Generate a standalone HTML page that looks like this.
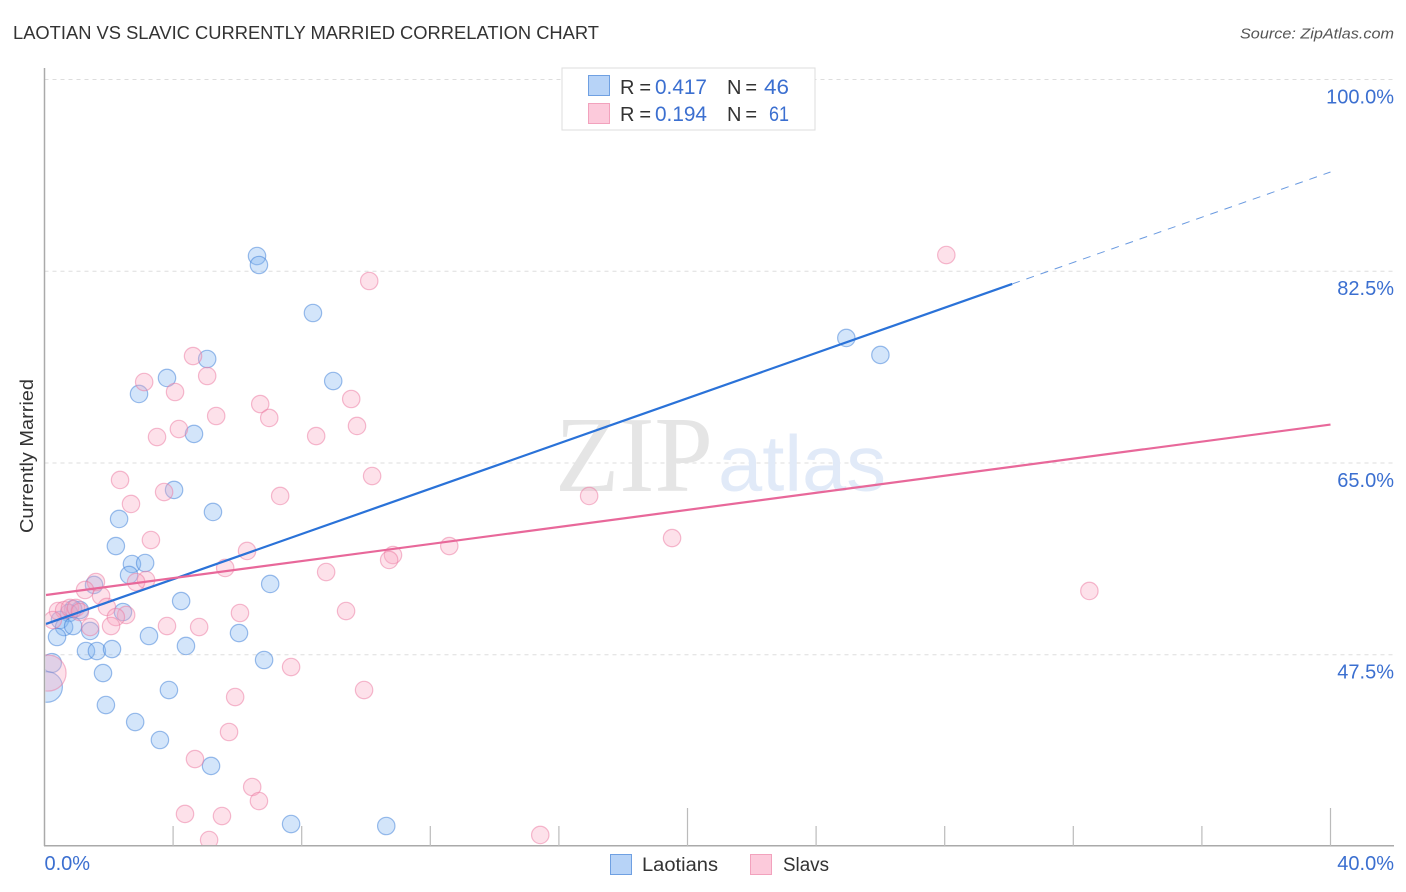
<!DOCTYPE html>
<html lang="en">
<head>
<meta charset="utf-8">
<title>Laotian vs Slavic Currently Married Correlation Chart</title>
<style>
html,body{margin:0;padding:0;background:#fff;}
svg{display:block;font-family:"Liberation Sans",sans-serif;}
</style>
</head>
<body>
<svg id="chart" xmlns="http://www.w3.org/2000/svg" width="1406" height="892" viewBox="0 0 1406 892">
  <defs>
    <clipPath id="plot-clip"><rect x="45.5" y="68" width="1350" height="777"/></clipPath>
  </defs>
  <rect width="1406" height="892" fill="#ffffff"/>
  <text x="13" y="39" font-size="18" fill="#333333" textLength="586" lengthAdjust="spacingAndGlyphs">LAOTIAN VS SLAVIC CURRENTLY MARRIED CORRELATION CHART</text>
  <text x="1394" y="38.5" font-size="15" font-style="italic" fill="#555555" text-anchor="end" textLength="154" lengthAdjust="spacingAndGlyphs">Source: ZipAtlas.com</text>
  <text transform="translate(33,456) rotate(-90)" font-size="18" fill="#333333" text-anchor="middle" textLength="154" lengthAdjust="spacingAndGlyphs">Currently Married</text>
  <g id="grid"></g>
  <g>
    <text x="555" y="491" font-family="'Liberation Serif',serif" font-size="108" fill="#e5e5e5" textLength="158" lengthAdjust="spacingAndGlyphs">ZIP</text>
    <text x="718" y="490.5" font-size="79" fill="#e1eaf8" textLength="168" lengthAdjust="spacingAndGlyphs">atlas</text>
  </g>
  <g id="axes"></g>
  <g id="points" clip-path="url(#plot-clip)"></g>
  <g id="trends"></g>
  <g id="labels"></g>
  <g>
    <rect x="562" y="68" width="253" height="62" fill="#ffffff" stroke="#dddddd" stroke-width="1"/>
    <rect x="588.5" y="75.5" width="21" height="20" fill="#b7d3f7" stroke="#6fa0e2" stroke-width="1"/>
    <rect x="588.5" y="103.5" width="21" height="20" fill="#fccadb" stroke="#f2a2bd" stroke-width="1"/>
    <g font-size="20" fill="#333333">
      <text x="620" y="94" textLength="31" lengthAdjust="spacing">R =</text>
      <text x="727" y="94" textLength="30" lengthAdjust="spacing">N =</text>
      <text x="620" y="121" textLength="31" lengthAdjust="spacing">R =</text>
      <text x="727" y="121" textLength="30" lengthAdjust="spacing">N =</text>
    </g>
    <g font-size="21" fill="#3b6fd0">
      <text x="655" y="94" textLength="52" lengthAdjust="spacingAndGlyphs">0.417</text>
      <text x="764" y="94" textLength="25" lengthAdjust="spacingAndGlyphs">46</text>
      <text x="655" y="121" textLength="52" lengthAdjust="spacingAndGlyphs">0.194</text>
      <text x="769" y="121" textLength="20" lengthAdjust="spacingAndGlyphs">61</text>
    </g>
  </g>
  <g>
    <rect x="610.5" y="854.5" width="21" height="20" fill="#b7d3f7" stroke="#6fa0e2" stroke-width="1"/>
    <text x="642" y="871" font-size="19" fill="#333333" textLength="76" lengthAdjust="spacingAndGlyphs">Laotians</text>
    <rect x="750.5" y="854.5" width="21" height="20" fill="#fccadb" stroke="#f2a2bd" stroke-width="1"/>
    <text x="783" y="871" font-size="19" fill="#333333" textLength="46" lengthAdjust="spacingAndGlyphs">Slavs</text>
  </g>
</svg>
<script>
const xTickValues = [0, 4, 8, 12, 16, 20, 24, 28, 32, 36, 40];
const xMajorTicks = [20, 40];
const xTickLabelValues = ["0.0%", "40.0%"];
const yGridValues = [100, 82.5, 65, 47.5];
const yTickLabels = ["100.0%", "82.5%", "65.0%", "47.5%"];

const laotianX = [6.61,6.67,8.35,24.94,26.0,5.06,3.81,8.98,2.94,4.65,4.03,5.24,2.32,2.22,2.72,3.13,2.63,1.54,7.02,4.25,1.10,2.44,0.89,0.76,0.48,0.61,0.89,0.39,1.42,3.25,6.05,4.40,1.29,1.63,2.10,6.83,1.82,0.23,0.08,3.87,1.91,2.82,3.59,5.18,7.67,10.63];
const laotianY = [83.89,83.07,78.69,76.41,74.86,74.49,72.76,72.48,71.30,67.65,62.54,60.53,59.89,57.42,55.78,55.87,54.78,53.87,53.96,52.40,51.58,51.40,51.67,51.31,50.67,50.03,50.12,49.12,49.67,49.21,49.48,48.30,47.84,47.84,48.02,47.02,45.83,46.75,44.56,44.28,42.91,41.36,39.72,37.35,32.05,31.87];
const laotianWeight = [1,1,1,1,1,1,1,1,1,1,1,1,1,1,1,1,1,1,1,1,1,1,1,1,1,1,1,1,1,1,1,1,1,1,1,1,1,1.2,3.1,1,1,1,1,1,1,1];

const slavX = [28.05,10.10,4.62,5.06,3.10,4.06,6.71,9.54,5.34,6.99,9.72,4.18,8.45,3.50,2.35,10.19,3.72,7.33,16.94,2.69,3.31,19.52,12.59,6.30,10.84,10.72,5.62,8.76,32.50,3.16,2.85,1.60,1.26,1.76,1.94,9.38,6.08,2.54,2.22,0.42,0.61,0.79,0.98,1.10,0.26,3.81,4.81,2.07,1.42,7.67,0.11,9.94,5.93,5.74,4.68,6.46,6.67,4.37,5.52,5.12,15.42];
const slavY = [83.98,81.61,74.76,72.94,72.39,71.48,70.38,70.84,69.29,69.11,68.38,68.10,67.46,67.37,63.45,63.81,62.35,61.99,61.99,61.26,57.97,58.15,57.42,56.97,56.60,56.15,55.42,55.05,53.32,54.32,54.14,54.14,53.41,52.86,51.86,51.49,51.31,51.13,50.94,51.49,51.58,51.77,51.77,51.40,50.67,50.12,50.03,50.12,50.03,46.38,45.83,44.28,43.64,40.45,37.98,35.43,34.15,32.97,32.78,30.59,31.05];
const slavWeight = [1,1,1,1,1,1,1,1,1,1,1,1,1,1,1,1,1,1,1,1,1,1,1,1,1,1,1,1,1,1,1,1,1,1,1,1,1,1,1,1,1,1,1,1,1,1,1,1,1,1,4.3,1,1,1,1,1,1,1,1,1,1];

const laotianTrendX = [0, 30.1, 40];
const laotianTrendY = [50.31, 81.34, 91.56];
const slavTrendX = [0, 40];
const slavTrendY = [52.95, 68.51];

const NS = 'http://www.w3.org/2000/svg';
function xScale(v) { return 44.5 + v * 32.15; }
function yScale(v) { return 79.5 + (100 - v) * 10.957; }
function rScale(w) { return 8.7 * Math.sqrt(w); }
function make(tag, attrs, parent) {
  const el = document.createElementNS(NS, tag);
  for (const k in attrs) el.setAttribute(k, attrs[k]);
  parent.appendChild(el);
  return el;
}

const grid = document.getElementById('grid');
yGridValues.forEach(function (v) {
  const line = make('line', {x1: 44.5, x2: 1394, y1: yScale(v), y2: yScale(v), stroke: '#dddddd', 'stroke-width': 1, 'stroke-dasharray': '4 4'}, grid);
  
  
});

const axes = document.getElementById('axes');
const yAxisLine = make('line', {x1: 44.5, x2: 44.5, y1: 68, y2: 846, stroke: '#aaaaaa', 'stroke-width': 1.5}, axes);


const xAxisLine = make('line', {x1: 44, x2: 1394, y1: 845.7, y2: 845.7, stroke: '#aaaaaa', 'stroke-width': 1.5}, axes);


xTickValues.forEach(function (v) {
  if (v === 0) return;
  const top = xMajorTicks.indexOf(v) >= 0 ? 808 : 826;
  const tick = make('line', {x1: xScale(v), x2: xScale(v), y1: top, y2: 846, stroke: '#bbbbbb', 'stroke-width': 1.2}, axes);
  
  
});

const pointsLayer = document.getElementById('points');
laotianX.forEach(function (x, i) {
  const c = make('circle', {cx: xScale(x), cy: yScale(laotianY[i]), r: rScale(laotianWeight[i]), fill: 'rgba(130,180,240,0.35)', stroke: 'rgba(60,125,215,0.5)', 'stroke-width': 1.2}, pointsLayer);
  
  
});
slavX.forEach(function (x, i) {
  const c = make('circle', {cx: xScale(x), cy: yScale(slavY[i]), r: rScale(slavWeight[i]), fill: 'rgba(248,170,195,0.35)', stroke: 'rgba(235,120,160,0.5)', 'stroke-width': 1.2}, pointsLayer);
  
  
});

const trends = document.getElementById('trends');
const blueSolid = make('line', {x1: xScale(laotianTrendX[0]) + 1.5, y1: yScale(laotianTrendY[0]), x2: xScale(laotianTrendX[1]), y2: yScale(laotianTrendY[1]), stroke: '#2a72d8', 'stroke-width': 2.2}, trends);


const blueDash = make('line', {x1: xScale(laotianTrendX[1]), y1: yScale(laotianTrendY[1]), x2: xScale(laotianTrendX[2]), y2: yScale(laotianTrendY[2]), stroke: '#6a9ae0', 'stroke-width': 1, 'stroke-dasharray': '8 7'}, trends);


const pinkLine = make('line', {x1: xScale(slavTrendX[0]) + 1.5, y1: yScale(slavTrendY[0]), x2: xScale(slavTrendX[1]), y2: yScale(slavTrendY[1]), stroke: '#e8689a', 'stroke-width': 2.2}, trends);



const labels = document.getElementById('labels');
yGridValues.forEach(function (v, i) {
  const t = make('text', {x: 1394, y: yScale(v) + 23.8, 'font-size': 20, fill: '#3b6fd0', 'text-anchor': 'end'}, labels);
  
  
  t.textContent = yTickLabels[i];
});
const xLabelLeft = make('text', {x: 44.5, y: 870, 'font-size': 20, fill: '#3b6fd0'}, labels);


xLabelLeft.textContent = xTickLabelValues[0];
const xLabelRight = make('text', {x: 1394, y: 870, 'font-size': 20, fill: '#3b6fd0', 'text-anchor': 'end'}, labels);


xLabelRight.textContent = xTickLabelValues[1];
</script>
</body>
</html>
